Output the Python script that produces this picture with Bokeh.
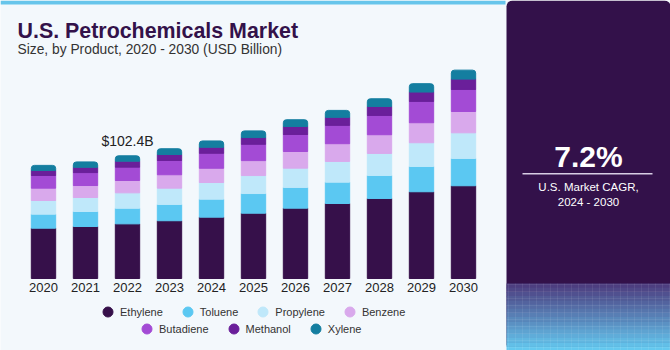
from bokeh.plotting import figure
from bokeh.models import Range1d, Label, Legend, LegendItem, ColumnDataSource
from bokeh.core.properties import value
from bokeh.embed import file_html
from bokeh.resources import INLINE

# ---------------- data ----------------
years = ["2020", "2021", "2022", "2023", "2024", "2025", "2026", "2027", "2028", "2029", "2030"]
ethylene = [42.0, 43.4, 45.6, 48.2, 51.2, 54.5, 58.7, 62.6, 66.8, 72.4, 77.4]
toluene = [11.7, 12.5, 13.0, 13.6, 15.0, 16.4, 17.3, 17.8, 19.2, 21.1, 22.8]
propylene = [11.4, 11.7, 12.9, 13.6, 13.9, 15.0, 16.1, 17.3, 18.4, 19.8, 21.4]
benzene = [10.3, 10.0, 10.3, 11.2, 11.9, 12.5, 13.9, 14.8, 15.6, 16.7, 17.8]
butadiene = [10.6, 10.8, 11.1, 11.9, 12.5, 13.6, 14.2, 15.3, 16.1, 17.8, 18.4]
methanol = [4.2, 4.4, 5.0, 5.0, 5.0, 5.6, 6.7, 6.7, 7.5, 7.8, 8.6]
xylene = [4.2, 4.5, 4.5, 4.8, 5.3, 5.6, 5.6, 5.8, 6.4, 7.0, 7.5]
series_names = ["Ethylene", "Toluene", "Propylene", "Benzene", "Butadiene", "Methanol", "Xylene"]
annot_year = "2022"
annot_text = "$102.4B"
cagr_text = "7.2%"
cagr_caption = ["U.S. Market CAGR,", "2024 - 2030"]
title_text = "U.S. Petrochemicals Market"
subtitle_text = "Size, by Product, 2020 - 2030 (USD Billion)"

colors = ["#36104A", "#5BC8F2", "#BFE8FA", "#D9A9EC", "#A34BD5", "#6A1F9A", "#147EA0"]
BG = "#F3F8FC"
PANEL = "#33114A"
FONT = "Liberation Sans"
W, H = 670, 350

keys = ["ethylene", "toluene", "propylene", "benzene", "butadiene", "methanol", "xylene"]
data = dict(year=years, xi=list(range(len(years))), ethylene=ethylene, toluene=toluene,
            propylene=propylene, benzene=benzene, butadiene=butadiene, methanol=methanol, xylene=xylene)
source = ColumnDataSource(data)

# canvas-like default ranges (pixels, y downward) for decoration; bar ranges for the data
p = figure(width=W, height=H, x_range=Range1d(0, W), y_range=Range1d(H, 0),
           output_backend="svg", toolbar_location=None, x_axis_location=None, y_axis_location=None,
           min_border=0, background_fill_color=BG, border_fill_color=BG, outline_line_color=None)
p.grid.visible = False

# bar plot area: bar centres 42 px apart starting at x=43 px; baseline at 278 px
px_per_cat = 42.0
x0_px = 43.0
bx_start = -x0_px / px_per_cat
p.extra_x_ranges = {"bars": Range1d(bx_start, bx_start + W / px_per_cat)}
px_per_b = 1.1982
base_from_bottom = 72.0
by_start = -base_from_bottom / px_per_b
p.extra_y_ranges = {"bars": Range1d(by_start, by_start + H / px_per_b)}

# backgrounds
p.quad(left=[0], right=[505], top=[0], bottom=[4], fill_color="#67C5EB", line_color=None)
p.quad(left=[506], right=[W], top=[0], bottom=[H], fill_color=PANEL, line_color=None, border_radius=6)

def lerp(c1, c2, t):
    a = [int(c1[i:i + 2], 16) for i in (1, 3, 5)]
    b = [int(c2[i:i + 2], 16) for i in (1, 3, 5)]
    return "#%02X%02X%02X" % tuple(round(a[k] + (b[k] - a[k]) * t) for k in range(3))

nb = 16
band_h = (H - 283) / nb
tops = [283 + i * band_h for i in range(nb)]
bots = [t + band_h + 0.5 for t in tops]
bcols = [lerp("#4D3E80", "#64C8EF", i / (nb - 1)) for i in range(nb)]
p.quad(left=506, right=W, top=tops, bottom=bots, fill_color=bcols, line_color=None)
p.quad(left=[506], right=[W], top=[283], bottom=[H], fill_alpha=0, line_color=None,
       hatch_pattern="+", hatch_color="#FFFFFF", hatch_alpha=0.12, hatch_scale=7, hatch_weight=0.6)
p.quad(left=[522], right=[652], top=[172.5], bottom=[174], fill_color="#D8CDE4", line_color=None)

# bars
rs = p.vbar_stack(keys, x="xi", width=0.58, color=colors, source=source,
                  x_range_name="bars", y_range_name="bars")
try:
    rs[-1].glyph.border_radius = (3, 3, 0, 0)
except Exception:
    pass

# year labels under bars
p.text(x="xi", y=0, text="year", source=source, x_range_name="bars", y_range_name="bars",
       y_offset=4, text_align="center", text_baseline="top", text_font_size="13px",
       text_color="#222222", text_font=value(FONT))

# annotation above 2022
idx = years.index(annot_year)
tot = sum(data[k][idx] for k in keys)
p.text(x=[idx], y=[tot], text=[annot_text], x_range_name="bars", y_range_name="bars",
       y_offset=-23, text_align="center", text_baseline="top", text_font_size="14px",
       text_color="#222222", text_font=value(FONT))

# legend (two centred rows); proxies sit off-canvas
lrs = [p.scatter(x=[-50], y=[-50], marker="circle", size=10, fill_color=c, line_color=c) for c in colors]
items = [LegendItem(label=n, renderers=[r]) for n, r in zip(series_names, lrs)]
for grp, loc in ((items[:4], (95, 26)), (items[4:], (134, 9))):
    lg = Legend(items=grp, orientation="horizontal", location=loc, glyph_width=25, glyph_height=25,
                label_height=14, label_standoff=0, spacing=12, padding=0, margin=0,
                border_line_color=None, background_fill_alpha=0, label_text_font_size="11px",
                label_text_color="#333333", label_text_font=FONT)
    p.add_layout(lg)

# titles and CAGR text
def lab(x, y, text, size, color, bold=False, align="left"):
    p.add_layout(Label(x=x, y=y, text=text, text_font_size=size, text_color=color,
                       text_font_style="bold" if bold else "normal", text_align=align,
                       text_baseline="top", text_font=FONT))

lab(17, 18, title_text, "21.4px", "#33124A", bold=True)
lab(17, 41, subtitle_text, "13.8px", "#333333")
lab(588, 139.5, cagr_text, "30px", "#FFFFFF", bold=True, align="center")
lab(588, 180, cagr_caption[0], "11.5px", "#FFFFFF", align="center")
lab(588, 195, cagr_caption[1], "11.5px", "#FFFFFF", align="center")

open("out.html", "w").write(file_html(p, INLINE))
